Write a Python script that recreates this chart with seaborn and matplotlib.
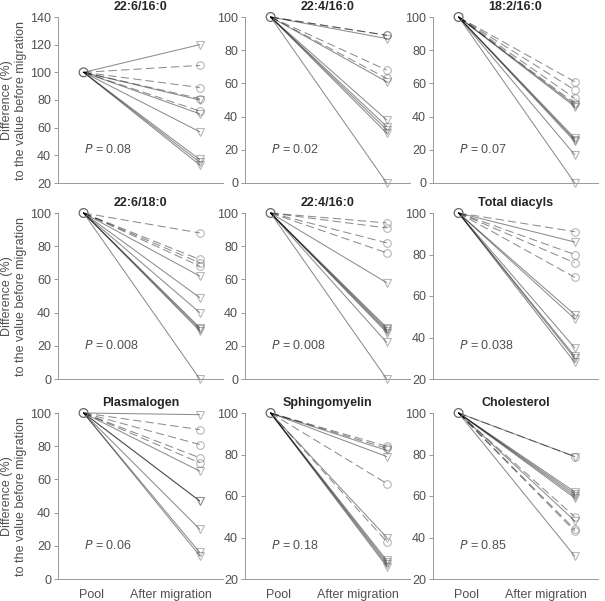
import numpy as np
import pandas as pd
import matplotlib
matplotlib.use("Agg")
import matplotlib.pyplot as plt
import seaborn as sns

# After-migration values (% of pool value), circles = dashed group, triangles = solid group
titles = ["22:6/16:0", "22:4/16:0", "18:2/16:0",
          "22:6/18:0", "22:4/16:0", "Total diacyls",
          "Plasmalogen", "Sphingomyelin", "Cholesterol"]
circle_vals = [
    [105, 89, 81, 72],
    [89, 89, 68, 63],
    [61, 56, 51, 48],
    [88, 72, 70, 68],
    [94, 91, 82, 76],
    [91, 80, 76, 69],
    [90, 81, 73, 70],
    [84, 83, 66, 38],
    [79, 50, 44, 43],
]
triangle_vals = [
    [120, 80, 70, 57, 37, 35, 33],
    [87, 61, 38, 34, 32, 30, 0],
    [47, 46, 27, 26, 25, 17, 0],
    [62, 49, 40, 31, 30, 29, 0],
    [58, 31, 30, 29, 28, 22, 0],
    [86, 51, 49, 35, 31, 30, 28],
    [99, 65, 47, 47, 30, 16, 14],
    [82, 79, 40, 29, 28, 27, 26],
    [79, 62, 61, 60, 59, 48, 31],
]
p_values = ["0.08", "0.02", "0.07", "0.008", "0.008", "0.038", "0.06", "0.18", "0.85"]
ylims = [(20, 140), (0, 100), (0, 100), (0, 100), (0, 100), (20, 100),
         (0, 100), (20, 100), (20, 100)]
pool_value = 100
x_labels = ["Pool", "After migration"]

sns.set_style("ticks")
plt.rcParams["font.family"] = ["Liberation Sans", "DejaVu Sans"]
plt.rcParams["font.size"] = 9

fig = plt.figure(figsize=(6.05, 6.01), dpi=100)
lefts = [58 / 605, 245 / 605, 433 / 605]
bottoms = [1 - 183 / 601, 1 - 379 / 601, 1 - 579 / 601]
w, h = 165 / 605, 166 / 601
txt_gray = "#505050"

for i in range(9):
    r, c = divmod(i, 3)
    ax = fig.add_axes([lefts[c], bottoms[r], w, h])

    rows = []
    for j, v in enumerate(circle_vals[i]):
        rows += [(f"c{j}", 0, pool_value, "circle"), (f"c{j}", 1, v, "circle")]
    for j, v in enumerate(triangle_vals[i]):
        rows += [(f"t{j}", 0, pool_value, "tri"), (f"t{j}", 1, v, "tri")]
    df = pd.DataFrame(rows, columns=["subject", "time", "value", "group"])

    sns.lineplot(data=df, x="time", y="value", units="subject", estimator=None,
                 style="group", markers={"circle": "o", "tri": "v"},
                 dashes={"circle": (8, 4), "tri": ""}, color="black",
                 alpha=0.45, lw=0.75, ms=5.5, mfc="none", mec="#606060", mew=0.8,
                 markevery=[1], clip_on=False, legend=False, ax=ax)
    pool = df[df["time"] == 0].head(1)
    sns.scatterplot(data=pool, x="time", y="value", marker="o", s=40,
                    facecolor="none", edgecolor="#686868", linewidth=0.9,
                    clip_on=False, zorder=5, legend=False, ax=ax)

    ax.set_xlim(-0.22, 1.2)
    ax.set_ylim(*ylims[i])
    ax.set_yticks(np.arange(ylims[i][0], ylims[i][1] + 1, 20))
    ax.set_xticks([0.07, 0.75])
    if r == 2:
        ax.set_xticklabels(x_labels, color=txt_gray, fontsize=9)
    else:
        ax.set_xticklabels([])
    ax.tick_params(axis="x", length=0, pad=7)
    ax.tick_params(axis="y", length=3, width=0.6, color="#888888",
                   labelcolor=txt_gray, labelsize=9, pad=2)
    ax.set_xlabel("")
    if c == 0:
        ax.set_ylabel("Difference (%)\nto the value before migration",
                      color=txt_gray, fontsize=9, labelpad=2)
    else:
        ax.set_ylabel("")
    for s in ["left", "bottom"]:
        ax.spines[s].set_color("#999999")
        ax.spines[s].set_linewidth(0.7)
    sns.despine(ax=ax)
    ax.set_title(titles[i], fontsize=9, fontweight="bold", pad=5)
    ax.text(0.16, 0.2, f"$P$ = {p_values[i]}", transform=ax.transAxes,
            color=txt_gray, fontsize=9, va="center")

fig.savefig("out.png", dpi=100)
